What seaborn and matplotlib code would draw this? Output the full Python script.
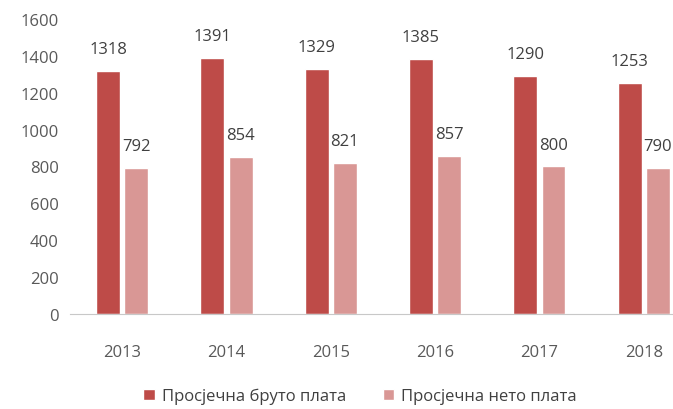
import pandas as pd
import numpy as np
import seaborn as sns
import matplotlib.pyplot as plt

# data
years = ['2013', '2014', '2015', '2016', '2017', '2018']
bruto = [1318, 1391, 1329, 1385, 1290, 1253]
neto = [792, 854, 821, 857, 800, 790]
series = ['Просјечна бруто плата', 'Просјечна нето плата']

df = pd.DataFrame({
    'year': years * 2,
    'value': bruto + neto,
    'series': [series[0]] * len(years) + [series[1]] * len(years),
})

sns.set_style('white')
plt.rcParams['font.family'] = ['Open Sans', 'DejaVu Sans']

fig = plt.figure(figsize=(6.73, 4.10), dpi=100)
ax = fig.add_axes([0.104, 0.232, 0.930, 0.719])

palette = ['#BE4B48', '#D99795']
sns.barplot(data=df, x='year', y='value', hue='series', palette=palette,
            width=0.54, gap=0.15, saturation=1, ax=ax, legend=True)

# value labels above bars
for cont in ax.containers:
    for bar in cont:
        h = bar.get_height()
        ax.annotate(f'{int(h)}', (bar.get_x() + bar.get_width() / 2, h),
                    xytext=(0, 10), textcoords='offset points',
                    ha='center', va='bottom', fontsize=12, color='#404040')

ax.set_ylim(0, 1600)
ax.set_yticks(range(0, 1601, 200))
ax.set_xlim(-0.5, 5.5)
ax.set_xlabel('')
ax.set_ylabel('')
for s in ['top', 'right', 'left']:
    ax.spines[s].set_visible(False)
ax.spines['bottom'].set_color('#C8C8C8')
ax.tick_params(axis='x', length=0, pad=22, labelsize=12, labelcolor='#595959')
ax.tick_params(axis='y', length=0, pad=8, labelsize=12, labelcolor='#595959')

leg = ax.legend(loc='center', ncol=2, frameon=False, fontsize=12,
                handlelength=0.7, handleheight=0.7, columnspacing=2.2,
                handletextpad=0.4, borderpad=0.1)
leg.set_bbox_to_anchor((360 / 673, 13 / 410), transform=fig.transFigure)
for t in leg.get_texts():
    t.set_color('#404040')

fig.savefig('out.png', dpi=100)
